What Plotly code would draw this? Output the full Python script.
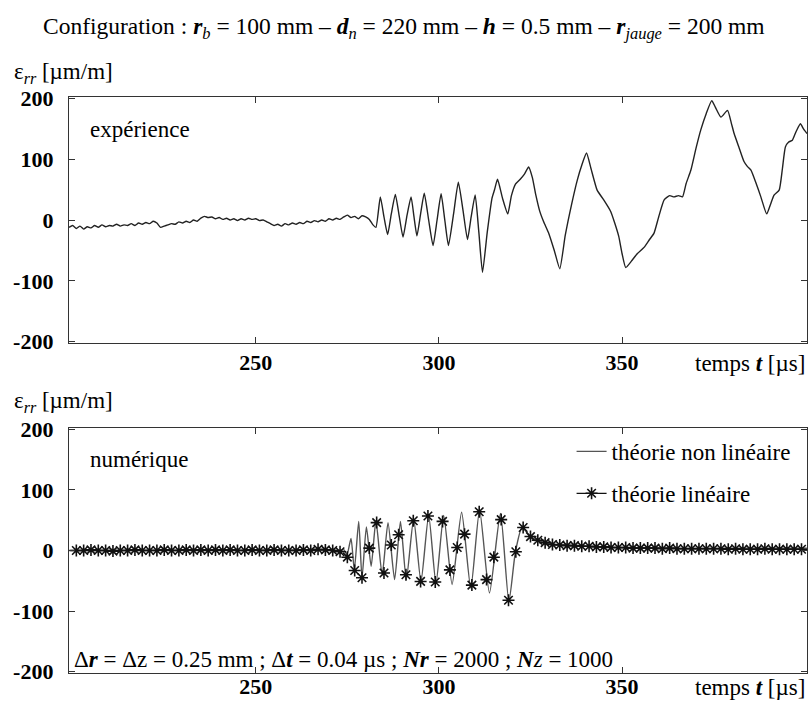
import plotly.graph_objects as go

# experimental strain gauge signal (t in us, eps_rr in um/m)
expTime = [199, 200, 201, 202, 203, 204, 205, 206, 207, 208, 209, 210, 211, 212, 213, 214, 215, 216, 217, 218,
           219, 220, 221, 222, 223, 224, 225, 226, 227, 228, 229, 230, 231, 232, 233, 234, 235, 236, 237, 238,
           239, 240, 241, 242, 243, 244, 245, 246, 247, 248, 249, 250, 251, 252, 253, 254, 255, 256, 257, 258,
           259, 260, 261, 262, 263, 264, 265, 266, 267, 268, 269, 270, 271, 272, 273, 274, 275, 276, 277, 278,
           279, 280, 281, 282, 282.8,
           284.0, 285, 286, 287, 288.1, 289.2, 290.2, 291.3, 292.4, 293.2, 294, 295, 296, 297.2, 298.4, 299.5,
           300.6, 301.6, 302.6, 304, 305.3, 306.6, 307.8, 308.8, 309.9, 310.9, 311.9, 313.2, 314.5, 315.2, 316,
           317.4, 318.8, 319.8, 320.9, 322.2, 323.3, 324.5, 325.5, 326.5, 327.5, 328.6, 330, 331.5, 333, 334.5,
           336.2, 337.8, 339, 340.3, 341.5, 343.2, 345, 346.9, 348, 349.1, 350, 351, 352.5, 354.2, 356, 357.5,
           358.7, 360, 361.5, 363, 364.2, 365.4, 366.5, 367.5, 368.8, 370.2, 371.5, 373, 374.5, 375.5, 377,
           378.8, 379.8, 380.6, 382, 383.3, 384.2, 385.2, 386.5, 387.9, 389.5, 390.5, 391.5, 392.9, 393.8, 394.6,
           395.5, 396.5, 397.5, 398.7, 399.5, 400.5]
expStrain = [-12, -9, -14, -10, -15, -11, -13, -9, -12, -8, -11, -9, -10, -7, -10, -8, -9, -6, -9, -5,
             -7, -4, -6, -2, -5, -12, -10, -8, -6, -7, -3, -5, -2, -4, 0, -2, 3, 6, 4, 5,
             2, 4, 1, 3, 0, 2, -1, 2, 0, 3, 1, 2, -1, 0, -3, -6, -9, -7, -10, -6,
             -8, -5, -7, -4, -6, -2, -4, -1, -3, 0, -2, 2, 0, 3, 1, 5, 8, 4, 6, 2,
             7, 5, 1, -8, -12,
             38, 5, -24, 10, 42, 5, -28, 8, 38, 5, -26, 10, 44, 0, -42, 0,
             43, 0, -42, 10, 62, 15, -32, 5, 41, -20, -86, -20, 36, 50, 67,
             35, 10, 40, 59, 67, 75, 87, 70, 40, 15, -3, -22, -50, -80, -25,
             25, 66, 90, 110, 85, 49, 33, 14, -5, -27, -55, -78, -68, -55, -45, -32,
             -22, 5, 33, 40, 38, 40, 38, 60, 82, 118, 148, 175, 196, 185, 169,
             180, 160, 142, 118, 96, 88, 82, 62, 38, 10, 25, 41, 49, 85, 120,
             128, 131, 145, 158, 150, 142]

# non linear theory (continuous curve)
nlTime = [199, 269.6, 272.6, 274.1, 274.9, 276.0, 276.9, 278.1, 279.0, 280.2, 281.5, 282.8, 284.5, 286.1,
          287.9, 289.5, 291.1, 293.1, 295.1, 297.2, 299.2, 301.3, 303.6, 306.2, 308.7, 311.1, 313.8, 316.8,
          319.1, 320.9, 322.7, 325.0, 328.2, 332.8, 338.2, 347.3, 365.5, 400.5]
nlStrain = [0, 1, 0, 1, -7, 20, -32, 48, -45, 39, -26, 49, -40, 46,
            -48, 48, -48, 52, -51, 58, -54, 58, -56, 63, -62, 67, -70, 61,
            -84, -2, 38, 23, 14, 9, 8, 5, 4, 4]

# linear theory (markers every 2 us)
linTime = list(range(201, 400, 2))
linStrain = [0, 0, 1, 0, 0, -1, 0, 0, 1, 0, 0, 0, 1, 0, 0, 1, 0, 1, 0, 1,
             0, 1, 0, 0, 1, 0, 0, 1, 0, 0, 0, 1, 0, 2, 1, 0, -2, -11, -33, -45,
             4, 46, -37, 9, 26, -40, 49, -51, 57, -52, 48, -32, 5, 27, -57, 64, -48, -11, 51, -82,
             -2, 38, 23, 17, 13, 10, 9, 8, 8, 7, 7, 6, 6, 5, 5, 5, 4, 4, 4, 4,
             3, 4, 3, 3, 3, 3, 3, 3, 3, 2, 3, 2, 2, 2, 3, 2, 2, 2, 2, 2]

xTicks = [250, 300, 350]
yTicks = [-200, -100, 0, 100, 200]
yTickText = ["-200", "-100", "0", "100", "200"]

serif = "Liberation Serif, Times New Roman, serif"
fig = go.Figure()

fig.add_trace(go.Scatter(x=expTime, y=expStrain, mode="lines",
                         line=dict(color="#222", width=1.4, shape="spline", smoothing=0.5),
                         showlegend=False, xaxis="x", yaxis="y"))

fig.add_trace(go.Scatter(x=nlTime, y=nlStrain, mode="lines",
                         line=dict(color="#555", width=1.4, shape="spline", smoothing=0.6),
                         name="théorie non linéaire", legendgroup="a", xaxis="x2", yaxis="y2"))
starMarker = dict(symbol="asterisk-open", size=10, color="#111", line=dict(color="#111", width=1.6))
fig.add_trace(go.Scatter(x=linTime, y=linStrain, mode="markers", marker=starMarker,
                         showlegend=False, xaxis="x2", yaxis="y2"))
# legend entry only for linear theory (line + star)
fig.add_trace(go.Scatter(x=[None], y=[None], mode="lines+markers", name="théorie linéaire",
                         legendgroup="b", line=dict(color="#111", width=1.2), marker=starMarker,
                         xaxis="x2", yaxis="y2"))

axisStyle = dict(showline=True, linecolor="#333", linewidth=1.3, mirror="ticks", ticks="inside",
                 ticklen=6, tickcolor="#333", showgrid=False, zeroline=False, automargin=False,
                 tickfont=dict(family=serif, size=22, color="black", weight="bold"))

fig.update_layout(
    template="none",
    width=808, height=707,
    margin=dict(l=69, r=1, t=97, b=34),
    paper_bgcolor="white", plot_bgcolor="white",
    font=dict(family=serif, size=23, color="black"),
    xaxis=dict(axisStyle, domain=[0, 1], range=[199, 400.5], tickvals=xTicks, anchor="y",
               ticklabelstandoff=-1),
    yaxis=dict(axisStyle, domain=[0.5729, 1], range=[-202, 202], tickvals=yTicks, ticktext=yTickText,
               anchor="x", ticklabelstandoff=10),
    xaxis2=dict(axisStyle, domain=[0, 1], range=[199, 400.5], tickvals=xTicks, anchor="y2",
                ticklabelstandoff=-7),
    yaxis2=dict(axisStyle, domain=[0, 0.4253], range=[-202, 202], tickvals=yTicks, ticktext=yTickText,
                anchor="x2", ticklabelstandoff=10),
    legend=dict(x=0.681, y=0.422, xanchor="left", yanchor="top", bgcolor="rgba(0,0,0,0)",
                tracegroupgap=9, traceorder="grouped", font=dict(family=serif, size=23)),
)

notes = [
    dict(x=0.454, y=1.12, xanchor="center", yanchor="middle", size=23.5,
         text="Configuration : <b><i>r</i></b><sub><i>b</i></sub> = 100 mm – <b><i>d</i></b><sub><i>n</i></sub>"
              " = 220 mm – <b><i>h</i></b> = 0.5 mm – <b><i>r</i></b><sub><i>jauge</i></sub> = 200 mm"),
    dict(x=-0.077, y=1.042, xanchor="left", yanchor="middle", text="ε<sub><i>rr</i></sub> [µm/m]"),
    dict(x=-0.077, y=0.4705, xanchor="left", yanchor="middle", text="ε<sub><i>rr</i></sub> [µm/m]"),
    dict(x=1.0, y=0.538, xanchor="right", yanchor="middle", text="temps <b><i>t</i></b> [µs]"),
    dict(x=1.0, y=-0.026, xanchor="right", yanchor="middle", text="temps <b><i>t</i></b> [µs]"),
    dict(x=0.0257, y=0.944, xanchor="left", yanchor="middle", text="expérience"),
    dict(x=0.0257, y=0.3715, xanchor="left", yanchor="middle", text="numérique"),
    dict(x=0.004, y=0.0226, xanchor="left", yanchor="middle",
         text="Δ<b><i>r</i></b> = Δz = 0.25 mm ; Δ<b><i>t</i></b> = 0.04 µs ; <b><i>Nr</i></b> = 2000 ;"
              " <b><i>N</i></b><i>z</i> = 1000"),
]
for n in notes:
    size = n.pop("size", 23)
    fig.add_annotation(xref="paper", yref="paper", showarrow=False, font=dict(family=serif, size=size), **n)

# drop the default page margin so the 808x707 figure fills the window exactly
fig.write_html("out.html", config={"displayModeBar": False},
               post_script="document.body.style.margin='0';document.body.style.overflow='hidden';")
